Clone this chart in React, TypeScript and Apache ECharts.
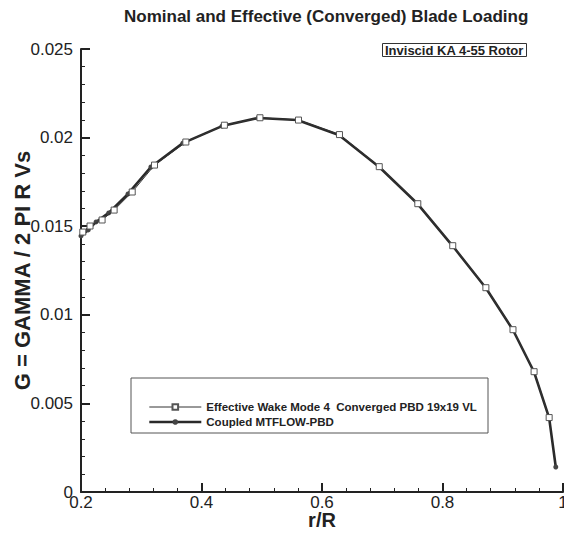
import React, { useEffect, useRef } from "react";
import * as echarts from "echarts";

const TITLE = "Nominal and Effective (Converged) Blade Loading";
const NOTE = "Inviscid KA 4-55 Rotor";
const X_NAME = "r/R";
const Y_NAME = "G = GAMMA / 2 PI R Vs";
const EFF_NAME = "Effective Wake Mode 4  Converged PBD 19x19 VL";
const CPL_NAME = "Coupled MTFLOW-PBD";

// Effective wake (open squares)
const rEff = [0.203, 0.215, 0.235, 0.255, 0.285, 0.322, 0.374, 0.438, 0.497, 0.561, 0.629, 0.695, 0.759, 0.817, 0.872, 0.917, 0.952, 0.977];
const gEff = [0.01467, 0.01501, 0.01535, 0.01591, 0.01693, 0.01845, 0.01975, 0.0207, 0.02112, 0.02099, 0.02017, 0.01836, 0.01627, 0.0139, 0.01153, 0.00916, 0.00679, 0.0042];

// Coupled MTFLOW-PBD (filled circles)
const rCpl = [0.2, 0.212, 0.225, 0.246, 0.278, 0.316, 0.369, 0.434, 0.494, 0.559, 0.628, 0.695, 0.759, 0.817, 0.872, 0.917, 0.952, 0.977, 0.988];
const gCpl = [0.01445, 0.01479, 0.01524, 0.01575, 0.01682, 0.01834, 0.01969, 0.02065, 0.02111, 0.02099, 0.02015, 0.01834, 0.01625, 0.01388, 0.01151, 0.00914, 0.00677, 0.00418, 0.00141];

const FONT = "'Liberation Sans', Arial, Helvetica, sans-serif";
const INK = "#222";

export default function App() {
  const ref = useRef<HTMLDivElement>(null);
  useEffect(() => {
    document.body.style.margin = "0";
    const chart = echarts.init(ref.current!, null, { renderer: "svg" });
    const axisCommon = {
      axisLine: { show: true, onZero: false, lineStyle: { color: INK, width: 2 } },
      axisTick: { show: true, inside: true, length: 9, lineStyle: { color: INK, width: 2 } },
      minorTick: { show: true, splitNumber: 5, length: 4, lineStyle: { color: INK, width: 1 } },
      splitLine: { show: false },
      axisLabel: { color: INK, fontSize: 17, fontFamily: FONT },
      nameTextStyle: { color: INK, fontSize: 20, fontWeight: "bold", fontFamily: FONT },
      nameMoveOverlap: false,
    };
    chart.setOption({
      animation: false,
      backgroundColor: "#fff",
      textStyle: { fontFamily: FONT },
      title: [
        {
          text: TITLE,
          left: 124,
          top: 8,
          padding: 0,
          textStyle: { fontSize: 17, fontWeight: "bold", color: INK, fontFamily: FONT },
        },
        {
          text: NOTE,
          left: 382,
          top: 43,
          padding: [1, 3, 0, 3],
          borderColor: "#333",
          borderWidth: 1,
          textStyle: { fontSize: 13, fontWeight: "bold", color: INK, fontFamily: FONT },
        },
      ],
      grid: { left: 81, right: 1, top: 49, bottom: 41, containLabel: false, outerBoundsMode: "none" },
      xAxis: {
        type: "value",
        min: 0.2,
        max: 1,
        interval: 0.2,
        name: X_NAME,
        nameLocation: "middle",
        nameGap: 18,
        ...axisCommon,
        axisLabel: { ...axisCommon.axisLabel, margin: 2 },
      },
      yAxis: {
        type: "value",
        min: 0,
        max: 0.025,
        interval: 0.005,
        name: Y_NAME,
        nameLocation: "middle",
        nameGap: 48,
        nameRotate: 90,
        ...axisCommon,
        nameTextStyle: { ...axisCommon.nameTextStyle, fontSize: 22 },
        axisLabel: { ...axisCommon.axisLabel, margin: 8 },
      },
      legend: {
        orient: "vertical",
        left: 143,
        top: 396,
        itemWidth: 52,
        itemHeight: 7,
        itemGap: 3,
        data: [
          { name: EFF_NAME, lineStyle: { width: 1, color: "#333" } },
          { name: CPL_NAME, lineStyle: { width: 2.6, color: "#2a2a2a" } },
        ],
        textStyle: { fontSize: 11.5, fontWeight: "bold", color: INK, fontFamily: FONT },
      },
      graphic: [
        {
          type: "rect",
          z: -1,
          shape: { x: 131, y: 378, width: 357, height: 55 },
          style: { fill: "#fff", stroke: "#555", lineWidth: 1 },
        },
      ],
      series: [
        {
          name: CPL_NAME,
          type: "line",
          data: rCpl.map((r, i) => [r, gCpl[i]]),
          symbol: "circle",
          symbolSize: 5,
          lineStyle: { color: "#2a2a2a", width: 2.6 },
          itemStyle: { color: "#444" },
          z: 2,
        },
        {
          name: EFF_NAME,
          type: "line",
          data: rEff.map((r, i) => [r, gEff[i]]),
          symbol: "rect",
          symbolSize: 6,
          lineStyle: { color: "#333", width: 1 },
          itemStyle: { color: "#fff", borderColor: "#555", borderWidth: 1 },
          z: 3,
        },
      ],
    });
    return () => chart.dispose();
  }, []);
  return <div ref={ref} style={{ width: 564, height: 533 }} />;
}
